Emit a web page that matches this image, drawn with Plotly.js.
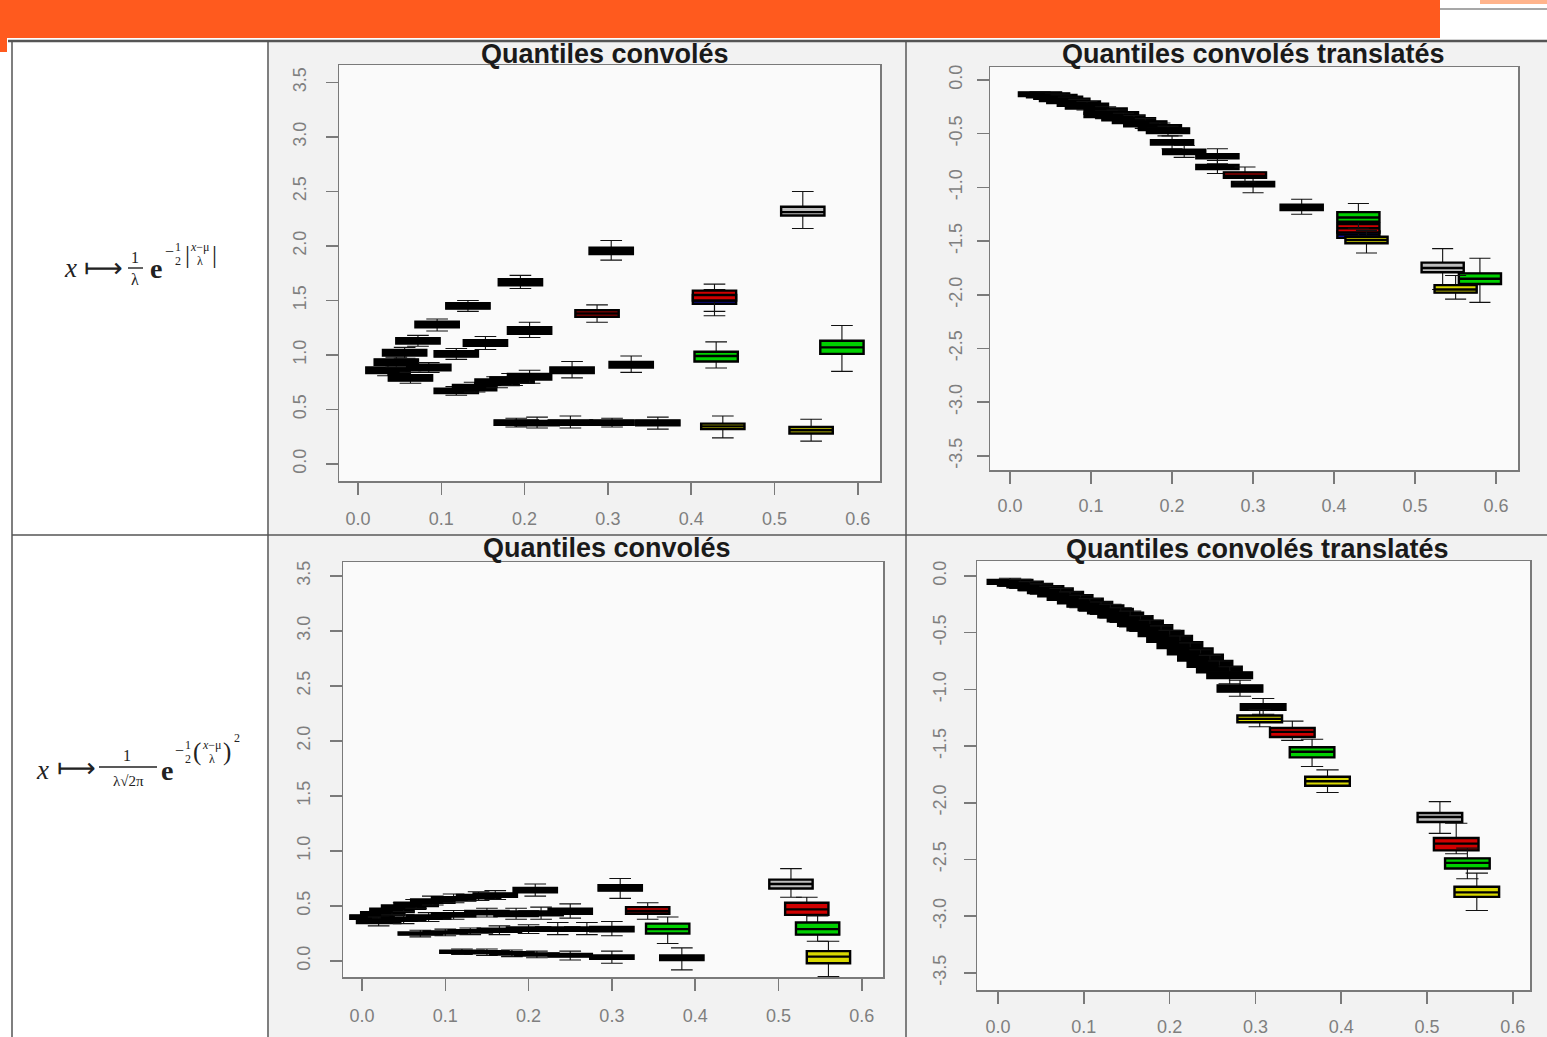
<!DOCTYPE html>
<html><head><meta charset="utf-8">
<script src="https://cdn.plot.ly/plotly-3.0.1.min.js"></script>
<style>html,body{margin:0;padding:0;background:#fff;overflow:hidden}#chart{width:1547px;height:1037px}</style>
</head><body><div id="chart"></div>
<script>
// ---------------- DATA ----------------
const panelTitles = ["Quantiles convolés", "Quantiles convolés translatés", "Quantiles convolés", "Quantiles convolés translatés"];
const xTickVals = [0, 0.1, 0.2, 0.3, 0.4, 0.5, 0.6];
const xTickText = ["0.0", "0.1", "0.2", "0.3", "0.4", "0.5", "0.6"];
const yTickValsPos = [0, 0.5, 1, 1.5, 2, 2.5, 3, 3.5];
const yTickTextPos = ["0.0", "0.5", "1.0", "1.5", "2.0", "2.5", "3.0", "3.5"];
const yTickValsNeg = [0, -0.5, -1, -1.5, -2, -2.5, -3, -3.5];
const yTickTextNeg = ["0.0", "-0.5", "-1.0", "-1.5", "-2.0", "-2.5", "-3.0", "-3.5"];

// group codes: k = black, s = grey, b = blue, r = red, g = green, y = yellow
// Top-left : Laplace kernel, convolved quantiles
const tlX   = [0.036,0.046,0.056,0.072,0.095,0.132,0.195,0.304,0.534, 0.063,0.085,0.118,0.153,0.206,0.287,0.428,0.428, 0.118,0.14,0.167,0.185,0.206,0.257,0.328,0.43,0.581, 0.19,0.215,0.255,0.305,0.36,0.438,0.544];
const tlLo  = [0.81,0.89,0.97,1.08,1.22,1.40,1.61,1.87,2.16, 0.74,0.84,0.96,1.05,1.16,1.30,1.36,1.40, 0.63,0.66,0.70,0.72,0.74,0.79,0.84,0.88,0.85, 0.34,0.33,0.33,0.34,0.32,0.24,0.21];
const tlQ1  = [0.835,0.91,0.995,1.105,1.255,1.425,1.64,1.925,2.28, 0.765,0.86,0.985,1.085,1.195,1.35,1.47,1.50, 0.65,0.675,0.725,0.745,0.775,0.835,0.885,0.94,1.01, 0.36,0.355,0.36,0.36,0.355,0.32,0.28];
const tlMed = [0.86,0.935,1.02,1.13,1.28,1.45,1.67,1.96,2.31, 0.79,0.885,1.01,1.11,1.23,1.38,1.50,1.55, 0.67,0.70,0.75,0.77,0.80,0.86,0.91,0.99,1.07, 0.38,0.375,0.38,0.38,0.375,0.345,0.31];
const tlQ3  = [0.885,0.96,1.045,1.155,1.305,1.475,1.695,1.985,2.36, 0.815,0.91,1.035,1.135,1.255,1.41,1.55,1.59, 0.69,0.725,0.775,0.795,0.825,0.885,0.935,1.03,1.13, 0.40,0.395,0.40,0.40,0.40,0.37,0.34];
const tlHi  = [0.91,0.98,1.07,1.18,1.33,1.50,1.73,2.05,2.50, 0.84,0.93,1.06,1.17,1.30,1.46,1.60,1.65, 0.71,0.75,0.80,0.83,0.86,0.94,0.99,1.12,1.27, 0.42,0.43,0.44,0.42,0.43,0.44,0.41];
const tlGrp = ["k","k","k","k","k","k","k","k","s", "k","k","k","k","k","r","b","r", "k","k","k","k","k","k","k","g","g", "k","k","k","k","k","y","y"];

// Top-right : Laplace kernel, translated quantiles
const trX   = [0.037,0.047,0.056,0.063,0.072,0.085,0.095,0.118,0.118,0.132,0.14,0.153,0.167,0.185,0.195, 0.2,0.215,0.256,0.256,0.29,0.30,0.36, 0.43,0.43,0.43,0.44,0.534,0.55,0.58];
const trLo  = [-0.16,-0.17,-0.19,-0.21,-0.23,-0.26,-0.28,-0.33,-0.36,-0.36,-0.40,-0.42,-0.45,-0.49,-0.52, -0.64,-0.72,-0.78,-0.87,-0.95,-1.05,-1.25, -1.38,-1.50,-1.52,-1.61,-1.95,-2.04,-2.07];
const trQ1  = [-0.15,-0.16,-0.175,-0.195,-0.215,-0.24,-0.265,-0.315,-0.345,-0.345,-0.375,-0.40,-0.43,-0.465,-0.495, -0.60,-0.69,-0.73,-0.83,-0.91,-0.99,-1.21, -1.32,-1.42,-1.47,-1.52,-1.79,-1.98,-1.90];
const trMed = [-0.135,-0.145,-0.16,-0.175,-0.195,-0.22,-0.245,-0.29,-0.325,-0.325,-0.355,-0.38,-0.41,-0.445,-0.475, -0.58,-0.67,-0.71,-0.81,-0.89,-0.97,-1.18, -1.28,-1.38,-1.44,-1.49,-1.75,-1.95,-1.85];
const trQ3  = [-0.115,-0.125,-0.14,-0.155,-0.175,-0.20,-0.22,-0.265,-0.305,-0.30,-0.33,-0.355,-0.385,-0.42,-0.45, -0.56,-0.65,-0.69,-0.79,-0.86,-0.95,-1.16, -1.23,-1.34,-1.41,-1.46,-1.70,-1.91,-1.80];
const trHi  = [-0.11,-0.12,-0.13,-0.14,-0.16,-0.18,-0.20,-0.25,-0.29,-0.28,-0.31,-0.33,-0.36,-0.40,-0.43, -0.52,-0.61,-0.64,-0.75,-0.81,-0.90,-1.11, -1.15,-1.25,-1.35,-1.40,-1.57,-1.82,-1.66];
const trGrp = ["k","k","k","k","k","k","k","k","k","k","k","k","k","k","k", "k","k","k","k","r","k","k", "g","r","b","y","s","y","g"];

// Bottom-left : Gaussian kernel, convolved quantiles
const blX   = [0.012,0.025,0.036,0.05,0.065,0.085,0.11,0.14,0.16,0.208,0.31,0.515, 0.02,0.05,0.08,0.11,0.15,0.185,0.215,0.25,0.343,0.534, 0.07,0.10,0.13,0.165,0.20,0.235,0.27,0.30,0.367,0.547, 0.12,0.15,0.18,0.21,0.25,0.30,0.384,0.56];
const blLo  = [0.36,0.39,0.42,0.45,0.48,0.51,0.53,0.55,0.56,0.59,0.57,0.58, 0.32,0.34,0.36,0.38,0.40,0.38,0.38,0.39,0.38,0.35, 0.22,0.23,0.24,0.24,0.25,0.24,0.24,0.23,0.16,0.18, 0.06,0.05,0.04,0.03,0.01,-0.02,-0.08,-0.14];
const blQ1  = [0.385,0.415,0.445,0.475,0.50,0.53,0.55,0.57,0.585,0.625,0.64,0.66, 0.345,0.365,0.385,0.405,0.425,0.41,0.415,0.43,0.43,0.42, 0.24,0.25,0.26,0.265,0.275,0.275,0.275,0.27,0.25,0.24, 0.075,0.07,0.06,0.05,0.04,0.02,0.01,-0.02];
const blMed = [0.40,0.43,0.46,0.49,0.515,0.545,0.565,0.585,0.60,0.645,0.665,0.70, 0.36,0.38,0.40,0.42,0.44,0.43,0.43,0.455,0.455,0.47, 0.25,0.26,0.27,0.28,0.29,0.29,0.29,0.29,0.29,0.29, 0.085,0.08,0.07,0.06,0.05,0.035,0.03,0.04];
const blQ3  = [0.415,0.445,0.475,0.505,0.53,0.56,0.58,0.60,0.615,0.665,0.69,0.74, 0.375,0.395,0.415,0.435,0.455,0.45,0.45,0.475,0.49,0.53, 0.26,0.27,0.28,0.295,0.305,0.305,0.305,0.31,0.34,0.35, 0.095,0.09,0.08,0.07,0.065,0.05,0.05,0.09];
const blHi  = [0.44,0.47,0.50,0.53,0.56,0.59,0.61,0.63,0.64,0.70,0.75,0.84, 0.40,0.42,0.44,0.46,0.48,0.48,0.49,0.52,0.53,0.58, 0.28,0.29,0.30,0.32,0.33,0.35,0.35,0.36,0.40,0.41, 0.11,0.11,0.10,0.09,0.09,0.09,0.12,0.18];
const blGrp = ["k","k","k","k","k","k","k","k","k","k","k","s", "k","k","k","k","k","k","k","k","r","r", "k","k","k","k","k","k","k","k","g","g", "k","k","k","k","k","k","y","y"];

// Bottom-right : Gaussian kernel, translated quantiles
const brX   = [0.014,0.026,0.037,0.05,0.061,0.073,0.084,0.096,0.107,0.12,0.131,0.143,0.154,0.166,0.177,0.19,0.20,0.212,0.224,0.236,0.247,0.258,0.27, 0.282,0.309,0.305,0.343,0.366,0.384,0.515,0.534,0.547,0.558];
const brLo  = [-0.09,-0.11,-0.13,-0.16,-0.18,-0.21,-0.24,-0.28,-0.31,-0.34,-0.37,-0.41,-0.45,-0.49,-0.53,-0.58,-0.63,-0.69,-0.74,-0.80,-0.85,-0.90,-0.95, -1.06,-1.22,-1.33,-1.45,-1.68,-1.91,-2.27,-2.45,-2.67,-2.95];
const brQ1  = [-0.07,-0.085,-0.10,-0.125,-0.15,-0.18,-0.21,-0.24,-0.27,-0.30,-0.33,-0.365,-0.40,-0.44,-0.48,-0.53,-0.58,-0.635,-0.69,-0.745,-0.80,-0.85,-0.90, -1.02,-1.18,-1.29,-1.42,-1.60,-1.85,-2.17,-2.42,-2.58,-2.83];
const brMed = [-0.05,-0.065,-0.085,-0.105,-0.13,-0.16,-0.19,-0.22,-0.25,-0.28,-0.31,-0.345,-0.38,-0.42,-0.46,-0.51,-0.555,-0.61,-0.665,-0.72,-0.775,-0.825,-0.875, -0.99,-1.155,-1.26,-1.375,-1.55,-1.81,-2.125,-2.36,-2.53,-2.79];
const brQ3  = [-0.035,-0.05,-0.07,-0.09,-0.11,-0.14,-0.17,-0.20,-0.23,-0.26,-0.29,-0.325,-0.355,-0.395,-0.435,-0.485,-0.53,-0.585,-0.64,-0.695,-0.75,-0.80,-0.85, -0.965,-1.13,-1.23,-1.34,-1.51,-1.77,-2.09,-2.31,-2.49,-2.74];
const brHi  = [-0.02,-0.03,-0.05,-0.07,-0.09,-0.11,-0.14,-0.17,-0.20,-0.23,-0.25,-0.28,-0.31,-0.35,-0.39,-0.44,-0.48,-0.53,-0.59,-0.65,-0.70,-0.75,-0.80, -0.92,-1.08,-1.18,-1.28,-1.44,-1.71,-1.99,-2.18,-2.40,-2.62];
const brGrp = ["k","k","k","k","k","k","k","k","k","k","k","k","k","k","k","k","k","k","k","k","k","k","k", "k","k","y","r","g","y","s","r","g","y"];

// ---------------- STYLE ----------------
const W = 1547, H = 1037;
const PX = x => x / W, PY = y => 1 - y / H;
const groupOrder = ["k", "s", "b", "r", "g", "y"];
const groupFill = {k: "#000000", s: "#bdbdbd", b: "#1010c8", r: "#d00000", g: "#00d000", y: "#d8d800"};
const BOXW = 0.052;

function panelTraces(X, LO, Q1, MED, Q3, HI, GRP, ax) {
  const out = [];
  const xa = "x" + ax, ya = "y" + ax;
  groupOrder.forEach(g => {
    GRP.forEach((v, i) => {
      if (v !== g) return;
      // thin whiskers + caps
      out.push({
        type: "box", orientation: "v", x: [X[i]], q1: [Q1[i]], median: [MED[i]], q3: [Q3[i]],
        lowerfence: [LO[i]], upperfence: [HI[i]], width: BOXW, whiskerwidth: 0.5,
        fillcolor: groupFill[g], line: {color: "#111111", width: 1.1},
        boxpoints: false, hoverinfo: "skip", showlegend: false, xaxis: xa, yaxis: ya
      });
      // thick box body
      out.push({
        type: "box", orientation: "v", x: [X[i]], q1: [Q1[i]], median: [MED[i]], q3: [Q3[i]],
        lowerfence: [Q1[i]], upperfence: [Q3[i]], width: BOXW, whiskerwidth: 0,
        fillcolor: groupFill[g], line: {color: "#000000", width: 2.4},
        boxpoints: false, hoverinfo: "skip", showlegend: false, xaxis: xa, yaxis: ya
      });
    });
  });
  return out;
}
const traces = [].concat(
  panelTraces(tlX, tlLo, tlQ1, tlMed, tlQ3, tlHi, tlGrp, ""),
  panelTraces(trX, trLo, trQ1, trMed, trQ3, trHi, trGrp, "2"),
  panelTraces(blX, blLo, blQ1, blMed, blQ3, blHi, blGrp, "3"),
  panelTraces(brX, brLo, brQ1, brMed, brQ3, brHi, brGrp, "4")
);

const axCommon = {
  showgrid: false, zeroline: false, showline: true, mirror: true,
  linecolor: "#7a7a7a", linewidth: 1.5, ticks: "outside", ticklen: 12,
  tickwidth: 1.5, tickcolor: "#7a7a7a", fixedrange: true,
  tickfont: {family: "Liberation Sans, Arial, sans-serif", size: 18, color: "#7f7f7f"}
};
function xa(d0, d1, r, anchor, so) {
  return Object.assign({}, axCommon, {domain: [PX(d0), PX(d1)], range: r, anchor: anchor,
    tickmode: "array", tickvals: xTickVals, ticktext: xTickText, ticklabelstandoff: so});
}
function ya(d0, d1, r, anchor, neg, so) {
  return Object.assign({}, axCommon, {domain: [PY(d1), PY(d0)], range: r, anchor: anchor,
    tickmode: "array", tickvals: neg ? yTickValsNeg : yTickValsPos, ticktext: neg ? yTickTextNeg : yTickTextPos,
    tickangle: -90, ticklabelstandoff: so});
}

function rectP(x0, y0, x1, y1, fill, layer) {
  return {type: "rect", xref: "paper", yref: "paper", x0: PX(x0), x1: PX(x1), y0: PY(y1), y1: PY(y0),
    fillcolor: fill, line: {width: 0}, layer: layer || "above"};
}
function lineP(x0, y0, x1, y1, col, w) {
  return {type: "line", xref: "paper", yref: "paper", x0: PX(x0), x1: PX(x1), y0: PY(y0), y1: PY(y1),
    line: {color: col, width: w}};
}
function innerBg(ax) {
  return {type: "rect", xref: "x" + ax + " domain", yref: "y" + ax + " domain", x0: 0, x1: 1, y0: 0, y1: 1,
    fillcolor: "#fafafa", line: {width: 0}, layer: "below"};
}
const shapes = [
  rectP(269, 42, 905, 534, "#f2f2f2", "below"),
  rectP(907, 42, 1547, 534, "#f2f2f2", "below"),
  rectP(269, 536, 905, 1037, "#f2f2f2", "below"),
  rectP(907, 536, 1547, 1037, "#f2f2f2", "below"),
  innerBg(""), innerBg("2"), innerBg("3"), innerBg("4"),
  // orange banner
  rectP(0, 0, 1440, 38, "#ff5a1e"),
  rectP(0, 38, 7, 52, "#ff5a1e"),
  rectP(1480, 0, 1547, 4, "#ffb48c"),
  lineP(1440, 9, 1547, 9, "#8a8a8a", 1.5),
  // table grid
  lineP(8, 41, 1547, 41, "#555", 2.5),
  lineP(12, 535, 1547, 535, "#555", 1.5),
  lineP(12, 41, 12, 1037, "#555", 1.5),
  lineP(268, 41, 268, 1037, "#555", 1.5),
  lineP(906, 41, 906, 1037, "#555", 1.5),
  // fraction bars of the formulas
  lineP(128, 268, 143, 268, "#222", 1.4),
  lineP(99, 767, 157, 767, "#222", 1.4)
];

const serif = "Liberation Serif, Times New Roman, serif";
function T(text, x, y, size, extra) {
  return Object.assign({text: text, xref: "paper", yref: "paper", x: PX(x), y: PY(y), xanchor: "center", yanchor: "middle",
    showarrow: false, font: {family: serif, size: size, color: "#222"}}, extra || {});
}
const titleFont = {family: "Liberation Sans, Arial, sans-serif", size: 27, color: "#1a1a1a"};
const annotations = [
  T("<b>" + panelTitles[0] + "</b>", 605, 54, 27, {font: titleFont}),
  T("<b>" + panelTitles[1] + "</b>", 1253, 54, 27, {font: titleFont}),
  T("<b>" + panelTitles[2] + "</b>", 607, 548, 27, {font: titleFont}),
  T("<b>" + panelTitles[3] + "</b>", 1257, 549, 27, {font: titleFont}),
  // formula 1 : x ↦ 1/λ e^{-1/2 |(x-μ)/λ|}
  T("<i>x</i>", 70, 268, 27),
  T("⟼", 103, 268, 27),
  T("1", 135, 258, 16),
  T("λ", 135, 280, 16),
  T("<b>e</b>", 156, 268, 28),
  T("−", 169, 251, 16),
  T("1", 178, 247, 12), T("2", 178, 261, 12),
  T("|", 187, 254, 25),
  T("<i>x</i>−μ", 200, 247, 12), T("λ", 200, 261, 12),
  T("|", 214, 254, 25),
  // formula 2 : x ↦ 1/(λ√2π) e^{-1/2 ((x-μ)/λ)^2}
  T("<i>x</i>", 42, 770, 27),
  T("⟼", 76, 768, 27),
  T("1", 127, 755, 16),
  T("λ√2π", 128, 781, 15),
  T("<b>e</b>", 167, 770, 28),
  T("−", 179, 750, 16),
  T("1", 188, 745, 12), T("2", 188, 759, 12),
  T("(", 197, 752, 25),
  T("<i>x</i>−μ", 212, 745, 12), T("λ", 212, 759, 12),
  T(")", 227, 752, 25),
  T("2", 237, 738, 12)
];

const layout = {
  width: W, height: H, margin: {l: 0, r: 0, t: 0, b: 0},
  paper_bgcolor: "#ffffff", plot_bgcolor: "#fafafa",
  showlegend: false, boxmode: "overlay",
  xaxis: xa(339, 880, [-0.0228, 0.6267], "y", 9),
  yaxis: ya(65, 481, [-0.156, 3.66], "x", false, 12),
  xaxis2: xa(990, 1518, [-0.0247, 0.627], "y2", 7),
  yaxis2: ya(67, 470, [-3.631, 0.121], "x2", true, 7),
  xaxis3: xa(343, 883, [-0.0228, 0.6255], "y3", 10),
  yaxis3: ya(562, 977, [-0.145, 3.627], "x3", false, 12),
  xaxis4: xa(977, 1530, [-0.0245, 0.62], "y4", 8),
  yaxis4: ya(561, 990, [-3.651, 0.132], "x4", true, 10),
  shapes: shapes, annotations: annotations
};
Plotly.newPlot("chart", traces, layout, {displayModeBar: false, staticPlot: true});
</script></body></html>
